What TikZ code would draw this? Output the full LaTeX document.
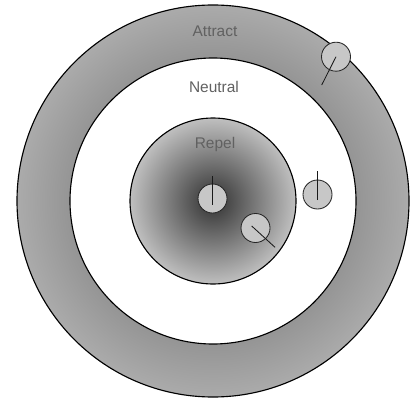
\documentclass[tikz,border=0pt]{standalone}
\usepackage{fontspec}
\setsansfont{Liberation Sans}
\usetikzlibrary{calc}
\pgfdeclareradialshading{repelshade}{\pgfpoint{0bp}{0bp}}{color(0bp)=(black!78); color(4bp)=(black!72); color(25bp)=(black!25); color(50bp)=(black!25)}
\pgfdeclareradialshading{attractshade}{\pgfpoint{0bp}{0bp}}{color(0bp)=(black!42); color(18bp)=(black!42); color(25bp)=(black!33); color(50bp)=(black!33)}

\begin{document}
\begin{tikzpicture}[x=0.025cm, y=0.025cm,
    every node/.style={font=\sffamily\fontsize{11}{13}\selectfont, text=black!62},
    agent/.style={circle, draw=black!85, fill=black!22, inner sep=0pt, minimum size=0.725cm, line width=0.6pt},
    heading/.style={draw=black!90, line width=0.6pt}]
  \fill[white] (0,0) rectangle (412,402);
  \useasboundingbox (0,0) rectangle (412,402);
  \coordinate (o) at (213,201);

  % zones
  \shade[shading=attractshade, even odd rule] (o) circle (196) circle (143);
  \fill[white] (o) circle (143);
  \shade[shading=repelshade] (o) circle (83);
  \draw[line width=0.8pt] (o) circle (196) (o) circle (143) (o) circle (83);

  \node[anchor=base] (attract) at (215,365) {Attract};
  \node[anchor=base] (neutral) at (214,309) {Neutral};
  \node[anchor=base] (repel) at (215,253) {Repel};

  % agents
  \node[agent] (a1) at (212.5,203.5) {};
  \node[agent] (a2) at (317.5,207.5) {};
  \node[agent] (a3) at (255.5,174) {};
  \node[agent] (a4) at (336,345.3) {};

  \coordinate (h1) at (212.5,226);
  \coordinate (h2) at (317.5,231);
  \coordinate (h3) at (275,154.7);
  \coordinate (h4) at (321.7,317);

  \draw[heading] (a1.center) ++(0,-6) -- (h1);
  \draw[heading] (a2.center) ++(0,-5.5) -- (h2);
  \draw[heading] (a3.center) ++(-3.8,2) -- (h3);
  \draw[heading] (a4.center) -- (h4);
\end{tikzpicture}
\end{document}
